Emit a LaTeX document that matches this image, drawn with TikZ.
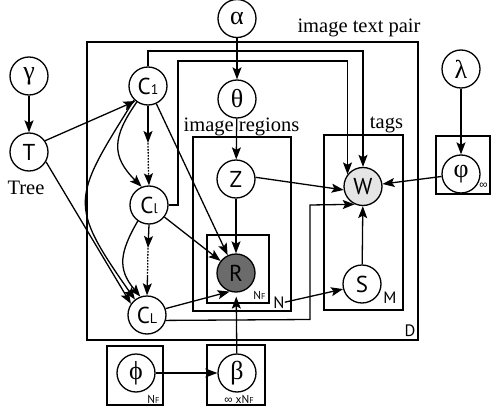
\documentclass[tikz,border=0pt]{standalone}
\usepackage{fontspec}
\setmainfont{Liberation Serif}
\newfontfamily\lblsans{PT Sans}
\newfontfamily\symsans{Liberation Sans}
\usetikzlibrary{arrows.meta}
\begin{document}
\begin{tikzpicture}[x=1pt,y=-1pt,
  arr/.style={-{Stealth[length=12pt,width=9pt,inset=2.5pt]}, line width=1.3pt},
  dotseg/.style={line width=1.3pt, dash pattern=on 1.6pt off 1.4pt},
  rv/.style={circle, draw, fill=white, line width=1.3pt, minimum size=38pt, inner sep=0pt},
  plate/.style={draw, line width=1.5pt},
  gk/.style={font=\fontsize{26}{26}\selectfont},
  sl/.style={font=\lblsans\fontsize{23}{23}\selectfont},
  captxt/.style={font=\fontsize{20.5}{20.5}\selectfont, inner sep=0pt, anchor=base},
  pl/.style={font=\lblsans\fontsize{16.5}{16.5}\selectfont, inner sep=0pt, anchor=base},
  sm/.style={font=\lblsans\fontsize{11.5}{11.5}\selectfont, inner sep=0pt, anchor=base},
]
\useasboundingbox (0,0) rectangle (501,415);
% plates
\draw[plate] (87,42) rectangle (418,340);
\draw[plate] (193,137) rectangle (291,311);
\draw[plate] (207,235) rectangle (269,303);
\draw[plate] (324,135) rectangle (403,310);
\draw[plate] (436,136) rectangle (490,194);
\draw[plate] (107,346) rectangle (163,405);
\draw[plate] (207,345) rectangle (265,405);
% labels
\node[captxt] (lpair) at (359,32) {image text pair};
\node[captxt] (lreg) at (241.5,131.5) {image regions};
\node[captxt] (ltags) at (386.5,128) {tags};
\node[captxt] (ltree) at (26,194) {Tree};
\node[pl] (lD) at (410,336) {D};
\node[pl] (lM) at (390,303) {M};
\node[pl] (N) at (279,308) {N};
\node[sm] (lnf1) at (259.5,299) {N{\fontsize{8.5}{8.5}\selectfont F}};
\node[sm] (lnf2) at (153.5,403) {N{\fontsize{8.5}{8.5}\selectfont F}};
\node[sm] (linf1) at (483.5,188.5) {\symsans ∞};
\node[sm] (linf2) at (239,403) {{\symsans ∞} xN{\fontsize{8.5}{8.5}\selectfont F}};
% nodes
\node[rv,gk] (alpha) at (237,18.5) {α};
\node[rv,gk] (gamma) at (29,76) {γ};
\node[rv,sl] (T) at (29,152) {T};
\node[rv,sl] (C1) at (148,86) {C{\fontsize{14}{14}\selectfont 1}};
\node[rv,gk] (theta) at (237,99) {θ};
\node[rv,sl] (Z) at (236,179) {Z};
\node[rv,sl] (Cl) at (149,205) {C{\fontsize{14}{14}\selectfont l}};
\node[rv,sl] (CL) at (147,315) {C{\fontsize{14}{14}\selectfont L}};
\node[rv,sl,fill=black!58] (R) at (236,273) {R};
\node[rv,sl,fill=black!10] (W) at (363,186.5) {W};
\node[rv,sl] (S) at (362,284) {S};
\node[rv,gk] (lambda) at (461,69) {λ};
\node[rv,gk] (vphi) at (461,174) {φ};
\node[rv,gk] (phi) at (136,373) {ϕ};
\node[rv,gk] (beta) at (237,373) {β};
% edges
\draw[arr] (alpha) -- (theta);
\draw[arr] (theta) -- (Z);
\draw[arr] (gamma) -- (T);
\draw[arr] (lambda) -- (vphi);
\draw[arr] (phi) -- (beta);
\draw[arr] (T.35) -- (C1.-130);
\draw[arr] (T.-30) -- (CL.145);
\draw[arr] (C1.225) to[out=238,in=125,looseness=1.5] (CL.128);
\draw[arr] (C1.235) to[out=235,in=135,looseness=1.3] (Cl.112);
\draw[arr] (Cl.235) to[out=240,in=130,looseness=1.22] (CL.110);
\coordinate (m1a) at (148,143);
\coordinate (m1b) at (148.5,175);
\coordinate (m2a) at (148,248);
\coordinate (m2b) at (147.5,276);
\draw[arr] (C1.south) -- (m1a);
\draw[dotseg] (m1a) -- (m1b);
\draw[arr] (m1b) -- (Cl.north);
\draw[arr] (Cl.south) -- (m2a);
\draw[dotseg] (m2a) -- (m2b);
\draw[arr] (m2b) -- (CL.north);
\draw[arr] (C1) -- (R);
\draw[arr] (Cl) -- (R);
\draw[arr] (Z) -- (R);
\draw[arr] (CL.19) -- (R.-109);
\draw[arr,shorten >=4pt] (beta) -- (R);
\draw[arr] (Z.5) -- (W.190);
\draw[arr] (vphi) -- (W);
\draw[arr] (S) -- (W);
\draw[arr] (N.east) -- (S.195);
\coordinate (k1) at (148,51);
\draw[arr] (C1.north) -- (k1) -| (W.north);
\coordinate (k2) at (178,205);
\coordinate (k3) at (178,61);
\draw[arr] (Cl.east) -- (k2) -- (k3) -| (W.142);
\coordinate (k4) at (310,319.5);
\coordinate (k5) at (310,205);
\draw[arr] (CL.-16) -- (k4) -- (k5) -- (W.-115);
\end{tikzpicture}
\end{document}
